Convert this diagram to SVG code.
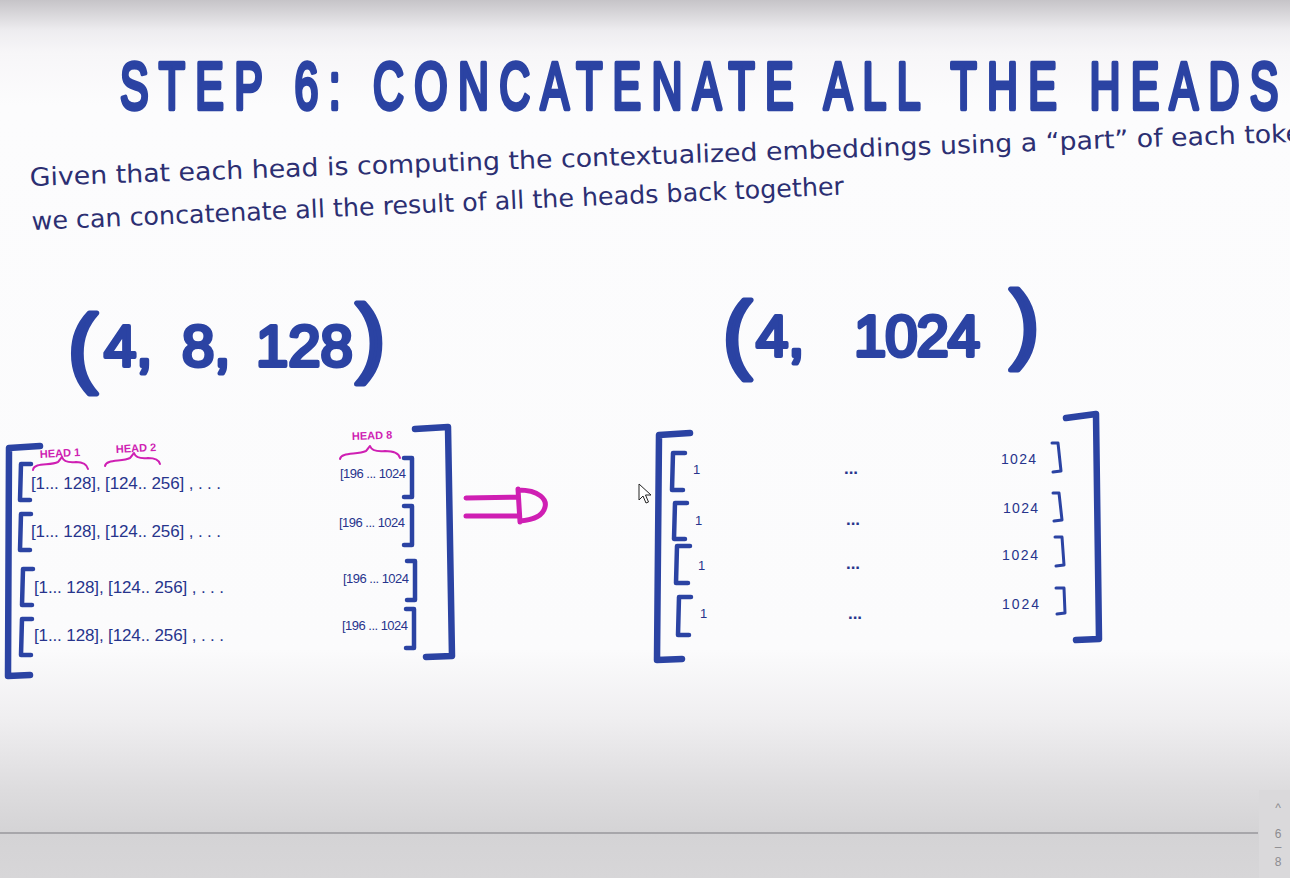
<svg xmlns="http://www.w3.org/2000/svg" width="1290" height="878" viewBox="0 0 1290 878">
  <defs>
    <linearGradient id="bg" x1="0" y1="0" x2="0" y2="1">
      <stop offset="0" stop-color="#c6c4c8"/>
      <stop offset="0.035" stop-color="#eeedf0"/>
      <stop offset="0.06" stop-color="#f7f6f8"/>
      <stop offset="0.12" stop-color="#fcfcfd"/>
      <stop offset="0.74" stop-color="#fbfbfc"/>
      <stop offset="0.82" stop-color="#efeef0"/>
      <stop offset="0.9" stop-color="#dddcde"/>
      <stop offset="0.95" stop-color="#d4d3d5"/>
      <stop offset="1" stop-color="#d7d6d8"/>
    </linearGradient>
    <style>
      .ink{fill:none;stroke:#2b43a3;stroke-linecap:round;stroke-linejoin:round}
      .big{stroke-width:6.5}
      .mid{stroke-width:4.5}
      .thin{stroke-width:3}
      .pink{fill:none;stroke:#cf1fb3;stroke-linecap:round;stroke-linejoin:round}
      .title{font-family:"Liberation Sans",Arial,sans-serif;fill:#2b43a3;stroke:#2b43a3;stroke-width:4.5;stroke-linejoin:round}
      .hand{font-family:"Liberation Sans Narrow","DejaVu Sans Condensed","Liberation Sans",sans-serif;fill:#2c2f72}
      .num{font-family:"Liberation Sans",Arial,sans-serif;fill:#2b43a3;stroke:#2b43a3;stroke-width:4;stroke-linejoin:round}
      .paren{font-family:"Liberation Sans",Arial,sans-serif;fill:#2b43a3;stroke:#2b43a3;stroke-width:5;stroke-linejoin:round}
      .cell{font-family:"Liberation Sans",Arial,sans-serif;fill:#27348c}
      .lbl{font-family:"Liberation Sans",Arial,sans-serif;font-weight:bold;fill:#cf1fb3;font-size:11px}
      .ui{font-family:"Liberation Sans",Arial,sans-serif;fill:#8d8c90;font-size:12px;text-anchor:middle}
    </style>
  </defs>

  <rect x="0" y="0" width="1290" height="878" fill="url(#bg)"/>
  <line x1="0" y1="833" x2="1258" y2="833" stroke="#a7a6aa" stroke-width="2"/>
  <g id="scroll-indicator">
    <rect x="1259" y="790" width="31" height="88" fill="#dad9db"/>
    <text class="ui" x="1278" y="812">^</text>
    <text class="ui" x="1278" y="838">6</text>
    <text class="ui" x="1278" y="851">–</text>
    <text class="ui" x="1278" y="866">8</text>
  </g>

  <g id="title">
    <text class="title" x="0" y="0" font-size="66" textLength="1782" lengthAdjust="spacing" transform="translate(120 109) scale(0.65 1)">STEP 6: CONCATENATE ALL THE HEADS</text>
  </g>

  <g id="subtitle">
    <text class="hand" x="30" y="186" font-size="25" textLength="1290" lengthAdjust="spacingAndGlyphs" transform="rotate(-2 30 186)">Given that each head is computing the contextualized embeddings using a “part” of each token</text>
    <text class="hand" x="32" y="230" font-size="25" textLength="813" lengthAdjust="spacingAndGlyphs" transform="rotate(-2.5 32 230)">we can concatenate all the result of all the heads back together</text>
  </g>

  <g id="shape-left">
    <text class="paren" x="68" y="376" font-size="88">(</text>
    <text class="num" x="104" y="366" font-size="58">4,</text>
    <text class="num" x="182" y="366" font-size="58">8,</text>
    <text class="num" x="256" y="366" font-size="58">128</text>
    <text class="paren" x="356" y="366" font-size="88">)</text>
  </g>

  <g id="shape-right">
    <text class="paren" x="723" y="362" font-size="86">(</text>
    <text class="num" x="756" y="356" font-size="58">4,</text>
    <text class="num" x="854" y="356" font-size="58" textLength="126" lengthAdjust="spacing">1024</text>
    <text class="paren" x="1010" y="352" font-size="88">)</text>
  </g>

  <g id="matrix-left">
    <path class="ink big" d="M40 446 L9 448 L8 676 L30 675"/>
    <path class="ink big" d="M415 429 L448 427 L452 656 L426 657"/>
    <g id="heads">
      <text class="lbl" x="40" y="458" transform="rotate(-3 40 458)">HEAD 1</text>
      <path class="pink" stroke-width="2" d="M33 470 C34 462 50 466 58 462 C60 460 61 458 62 457 C63 460 66 463 76 462 C84 462 87 465 88 469"/>
      <text class="lbl" x="116" y="453" transform="rotate(-3 116 453)">HEAD 2</text>
      <path class="pink" stroke-width="2" d="M105 466 C106 459 122 462 130 458 C132 456 133 454 134 453 C135 456 138 459 148 458 C156 458 159 460 160 464"/>
      <text class="lbl" x="352" y="440" transform="rotate(-2 352 440)">HEAD 8</text>
      <path class="pink" stroke-width="2" d="M340 459 C341 452 357 455 366 451 C368 449 369 447 370 446 C371 449 374 452 385 451 C395 451 399 454 400 458"/>
    </g>
    <g id="row-l1">
      <path class="ink mid" d="M31 464 L21 464 L20 500 L30 500"/>
      <text class="cell" x="31" y="489" font-size="17" textLength="190" lengthAdjust="spacing">[1... 128], [124.. 256] ,  . . .</text>
      <text class="cell" x="340" y="478" font-size="13" textLength="66" lengthAdjust="spacing">[196 ... 1024</text>
      <path class="ink mid" d="M404 458 L412 458 L412 497 L404 497"/>
    </g>
    <g id="row-l2">
      <path class="ink mid" d="M31 514 L21 514 L20 550 L30 550"/>
      <text class="cell" x="31" y="537" font-size="17" textLength="190" lengthAdjust="spacing">[1... 128], [124.. 256] ,  . . .</text>
      <text class="cell" x="339" y="527" font-size="13" textLength="66" lengthAdjust="spacing">[196 ... 1024</text>
      <path class="ink mid" d="M404 506 L412 506 L412 545 L404 545"/>
    </g>
    <g id="row-l3">
      <path class="ink mid" d="M33 569 L23 569 L22 605 L32 605"/>
      <text class="cell" x="34" y="593" font-size="17" textLength="190" lengthAdjust="spacing">[1... 128], [124.. 256] ,  . . .</text>
      <text class="cell" x="343" y="583" font-size="13" textLength="66" lengthAdjust="spacing">[196 ... 1024</text>
      <path class="ink mid" d="M407 561 L415 561 L415 600 L407 600"/>
    </g>
    <g id="row-l4">
      <path class="ink mid" d="M32 619 L22 619 L21 655 L31 655"/>
      <text class="cell" x="34" y="641" font-size="17" textLength="190" lengthAdjust="spacing">[1... 128], [124.. 256] ,  . . .</text>
      <text class="cell" x="342" y="630" font-size="13" textLength="66" lengthAdjust="spacing">[196 ... 1024</text>
      <path class="ink mid" d="M406 609 L414 609 L414 648 L406 648"/>
    </g>
  </g>

  <g id="connectors">
    <path class="pink" stroke-width="5" d="M466 498 L518 497 M466 516 L518 516 M518 489 L520 522 M518 490 C540 490 547 500 545 507 C543 516 532 520 520 521"/>
  </g>

  <g id="matrix-right">
    <path class="ink big" d="M690 433 L659 435 L657 660 L682 659"/>
    <path class="ink big" d="M1066 418 L1096 414 L1099 639 L1076 640"/>
    <g id="row-r1">
      <path class="ink mid" d="M685 453 L673 453 L672 490 L683 490"/>
      <text class="cell" x="693" y="474" font-size="13">1</text>
      <text class="cell" x="851" y="474" font-size="17" font-weight="bold" text-anchor="middle">...</text>
      <text class="cell" x="1001" y="464" font-size="14" textLength="35" lengthAdjust="spacing">1024</text>
      <path class="ink thin" d="M1052 443 L1058 443 L1061 471 L1053 472"/>
    </g>
    <g id="row-r2">
      <path class="ink mid" d="M687 503 L675 503 L674 539 L685 539"/>
      <text class="cell" x="695" y="525" font-size="13">1</text>
      <text class="cell" x="853" y="525" font-size="17" font-weight="bold" text-anchor="middle">...</text>
      <text class="cell" x="1003" y="513" font-size="14" textLength="35" lengthAdjust="spacing">1024</text>
      <path class="ink thin" d="M1053 493 L1059 493 L1062 520 L1054 521"/>
    </g>
    <g id="row-r3">
      <path class="ink mid" d="M690 546 L677 546 L676 583 L688 583"/>
      <text class="cell" x="698" y="570" font-size="13">1</text>
      <text class="cell" x="853" y="569" font-size="17" font-weight="bold" text-anchor="middle">...</text>
      <text class="cell" x="1002" y="560" font-size="14" textLength="36" lengthAdjust="spacing">1024</text>
      <path class="ink thin" d="M1055 537 L1062 537 L1064 565 L1056 566"/>
    </g>
    <g id="row-r4">
      <path class="ink mid" d="M691 597 L679 597 L678 635 L689 635"/>
      <text class="cell" x="700" y="618" font-size="13">1</text>
      <text class="cell" x="855" y="619" font-size="17" font-weight="bold" text-anchor="middle">...</text>
      <text class="cell" x="1002" y="609" font-size="14" textLength="37" lengthAdjust="spacing">1024</text>
      <path class="ink thin" d="M1056 588 L1064 588 L1065 613 L1057 614"/>
    </g>
  </g>

  <g id="cursor">
    <path d="M639 484 L639 500 L643 496 L646 503 L648.5 502 L645.5 495 L651 495 Z" fill="#ffffff" stroke="#222" stroke-width="1"/>
  </g>
</svg>
